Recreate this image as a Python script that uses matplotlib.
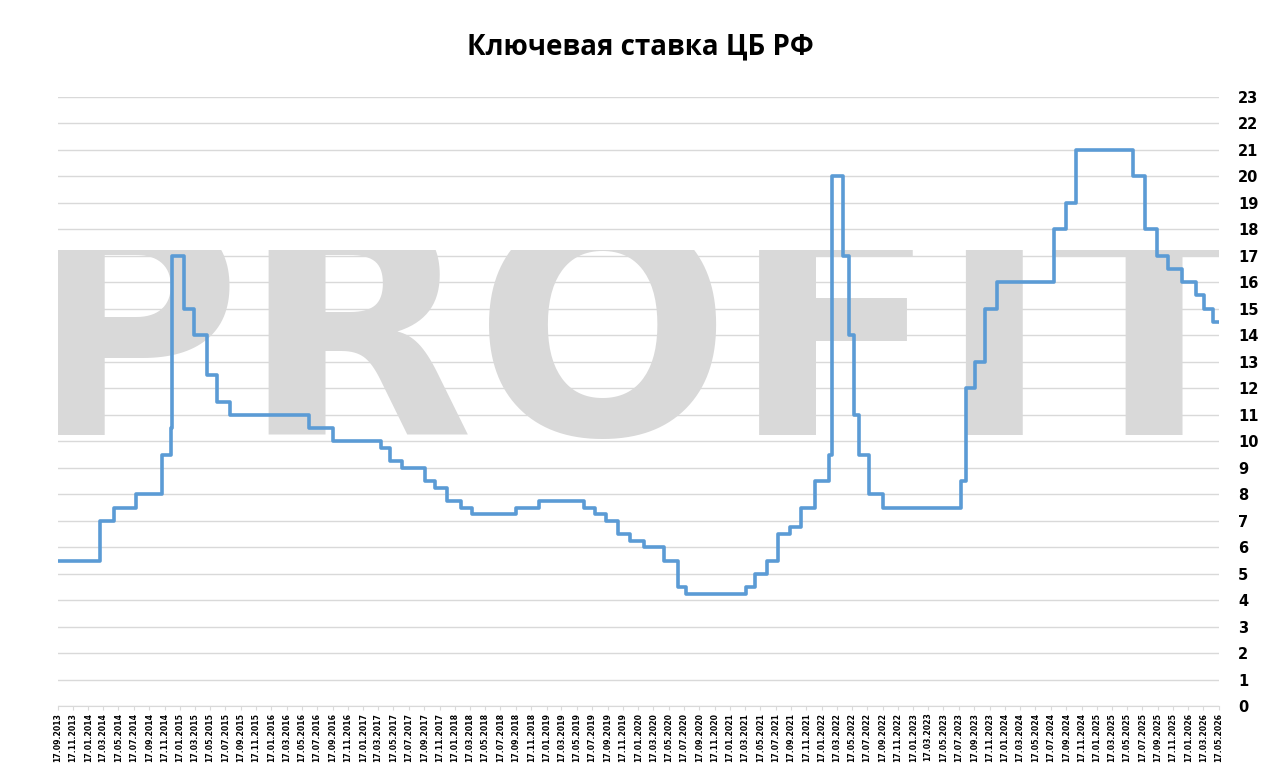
import matplotlib
matplotlib.use("Agg")
import matplotlib.pyplot as plt
import pandas as pd
from matplotlib.transforms import Bbox, TransformedBbox

dates = ["2013-09-17","2014-03-03","2014-04-28","2014-07-28","2014-11-05","2014-12-12","2014-12-16",
 "2015-02-02","2015-03-16","2015-05-05","2015-06-16","2015-08-03","2016-06-14","2016-09-19",
 "2017-03-27","2017-05-02","2017-06-19","2017-09-18","2017-10-30","2017-12-18","2018-02-12",
 "2018-03-26","2018-09-17","2018-12-17","2019-06-17","2019-07-29","2019-09-09","2019-10-28",
 "2019-12-16","2020-02-10","2020-04-27","2020-06-22","2020-07-27","2021-03-22","2021-04-26",
 "2021-06-15","2021-07-26","2021-09-13","2021-10-25","2021-12-20","2022-02-14","2022-02-28",
 "2022-04-11","2022-05-04","2022-05-27","2022-06-14","2022-07-25","2022-09-19","2023-07-24",
 "2023-08-15","2023-09-18","2023-10-30","2023-12-18","2024-07-29","2024-09-16","2024-10-28",
 "2025-06-09","2025-07-28","2025-09-15","2025-10-27","2025-12-22","2026-02-16","2026-03-20",
 "2026-04-24","2026-05-17"]
rates = [5.5,7.0,7.5,8.0,9.5,10.5,17,15,14,12.5,11.5,11,10.5,10,9.75,9.25,9,8.5,8.25,7.75,7.5,
 7.25,7.5,7.75,7.5,7.25,7,6.5,6.25,6,5.5,4.5,4.25,4.5,5,5.5,6.5,6.75,7.5,8.5,9.5,20,17,14,11,
 9.5,8,7.5,8.5,12,13,15,16,18,19,21,20,18,17,16.5,16,15.5,15,14.5,14.5]
tick_dates = pd.date_range("2013-09-01", "2026-05-17", freq="2MS") + pd.Timedelta(days=16)
tick_labels = [d.strftime("%d.%m.%Y") for d in tick_dates]

x = pd.to_datetime(dates)
fig = plt.figure(figsize=(12.8, 7.67), dpi=100)
ax = fig.add_axes([0.045, 0.079, 0.907, 0.795])
ax.set_xlim(pd.Timestamp("2013-09-17"), pd.Timestamp("2026-05-17"))
ax.set_ylim(0, 23)

t = ax.text(0.5, 13.4, "PROFIT", transform=ax.get_yaxis_transform(), ha="center", va="center",
            fontsize=218, fontweight="bold", color="#d9d9d9", family="DejaVu Sans", zorder=0)
t.set_clip_box(TransformedBbox(Bbox([[0, 10], [1, 17.2]]), ax.get_yaxis_transform()))
t.set_clip_on(True)

ax.step(x, rates, where="post", color="#5b9bd5", lw=2.6, zorder=3)

ax.set_yticks(range(0, 24))
ax.yaxis.tick_right()
ax.tick_params(axis="y", length=0, labelsize=10.5, pad=14)
for l in ax.get_yticklabels():
    l.set_fontweight("bold")
ax.grid(axis="y", color="#d9d9d9", lw=1, zorder=1)
ax.set_xticks(tick_dates)
ax.set_xticklabels(tick_labels, rotation=90, fontsize=5.6, fontweight="bold")
ax.tick_params(axis="x", length=3, color="#d9d9d9", pad=1.5)
for s in ["top", "right", "left"]:
    ax.spines[s].set_visible(False)
ax.spines["bottom"].set_color("#d9d9d9")
fig.text(0.5, 0.939, "Ключевая ставка ЦБ РФ", ha="center", va="center", fontsize=20, fontweight="bold",
         family="Open Sans")
fig.savefig("out.png", dpi=100)
